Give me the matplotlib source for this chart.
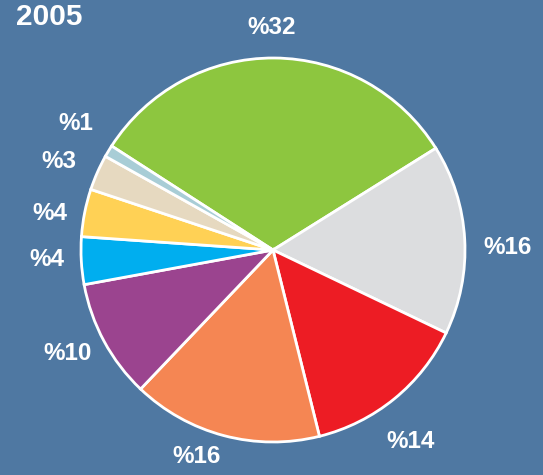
import matplotlib
matplotlib.use("Agg")
import matplotlib.pyplot as plt

values = [32, 16, 14, 16, 10, 4, 4, 3, 1]
labels = ["%32", "%16", "%14", "%16", "%10", "%4", "%4", "%3", "%1"]
colors = ["#8dc63f", "#dcdddf", "#ed1c24", "#f58653", "#9b448f",
          "#00aeef", "#ffd155", "#e6d9c0", "#a8cdd6"]
title = "2005"
bg = "#4f78a2"

# label placement (pixel positions in the figure, layout only)
label_px = [(272, 28), (508, 247), (411, 441), (197, 456), (68, 353),
            (47, 260), (50, 213), (59, 162), (76, 124)]

W, H = 543, 475
CX, CY, R = 273, 250, 192

fig = plt.figure(figsize=(W / 100, H / 100), dpi=100, facecolor=bg)
ax = fig.add_axes([0, 0, 1, 1])
ax.set_facecolor(bg)

wedges, texts = ax.pie(values, labels=labels, colors=colors, startangle=147.2,
                       counterclock=False, radius=1.0,
                       wedgeprops=dict(edgecolor="white", linewidth=2),
                       textprops=dict(color="white", fontsize=17.5,
                                      fontweight="bold", family="Liberation Sans"))
for t, (px, py) in zip(texts, label_px):
    t.set_position(((px - CX) / R, (CY - py) / R))
    t.set_ha("center")
    t.set_va("center")

ax.set_xlim(-CX / R, (W - CX) / R)
ax.set_ylim((CY - H) / R, CY / R)
ax.set_aspect("auto")
ax.axis("off")

fig.text(16 / W, 1 - 17 / H, title, color="white", fontsize=21.5,
         fontweight="bold", family="Liberation Sans", ha="left", va="center")

fig.savefig("out.png", dpi=100, facecolor=bg)
